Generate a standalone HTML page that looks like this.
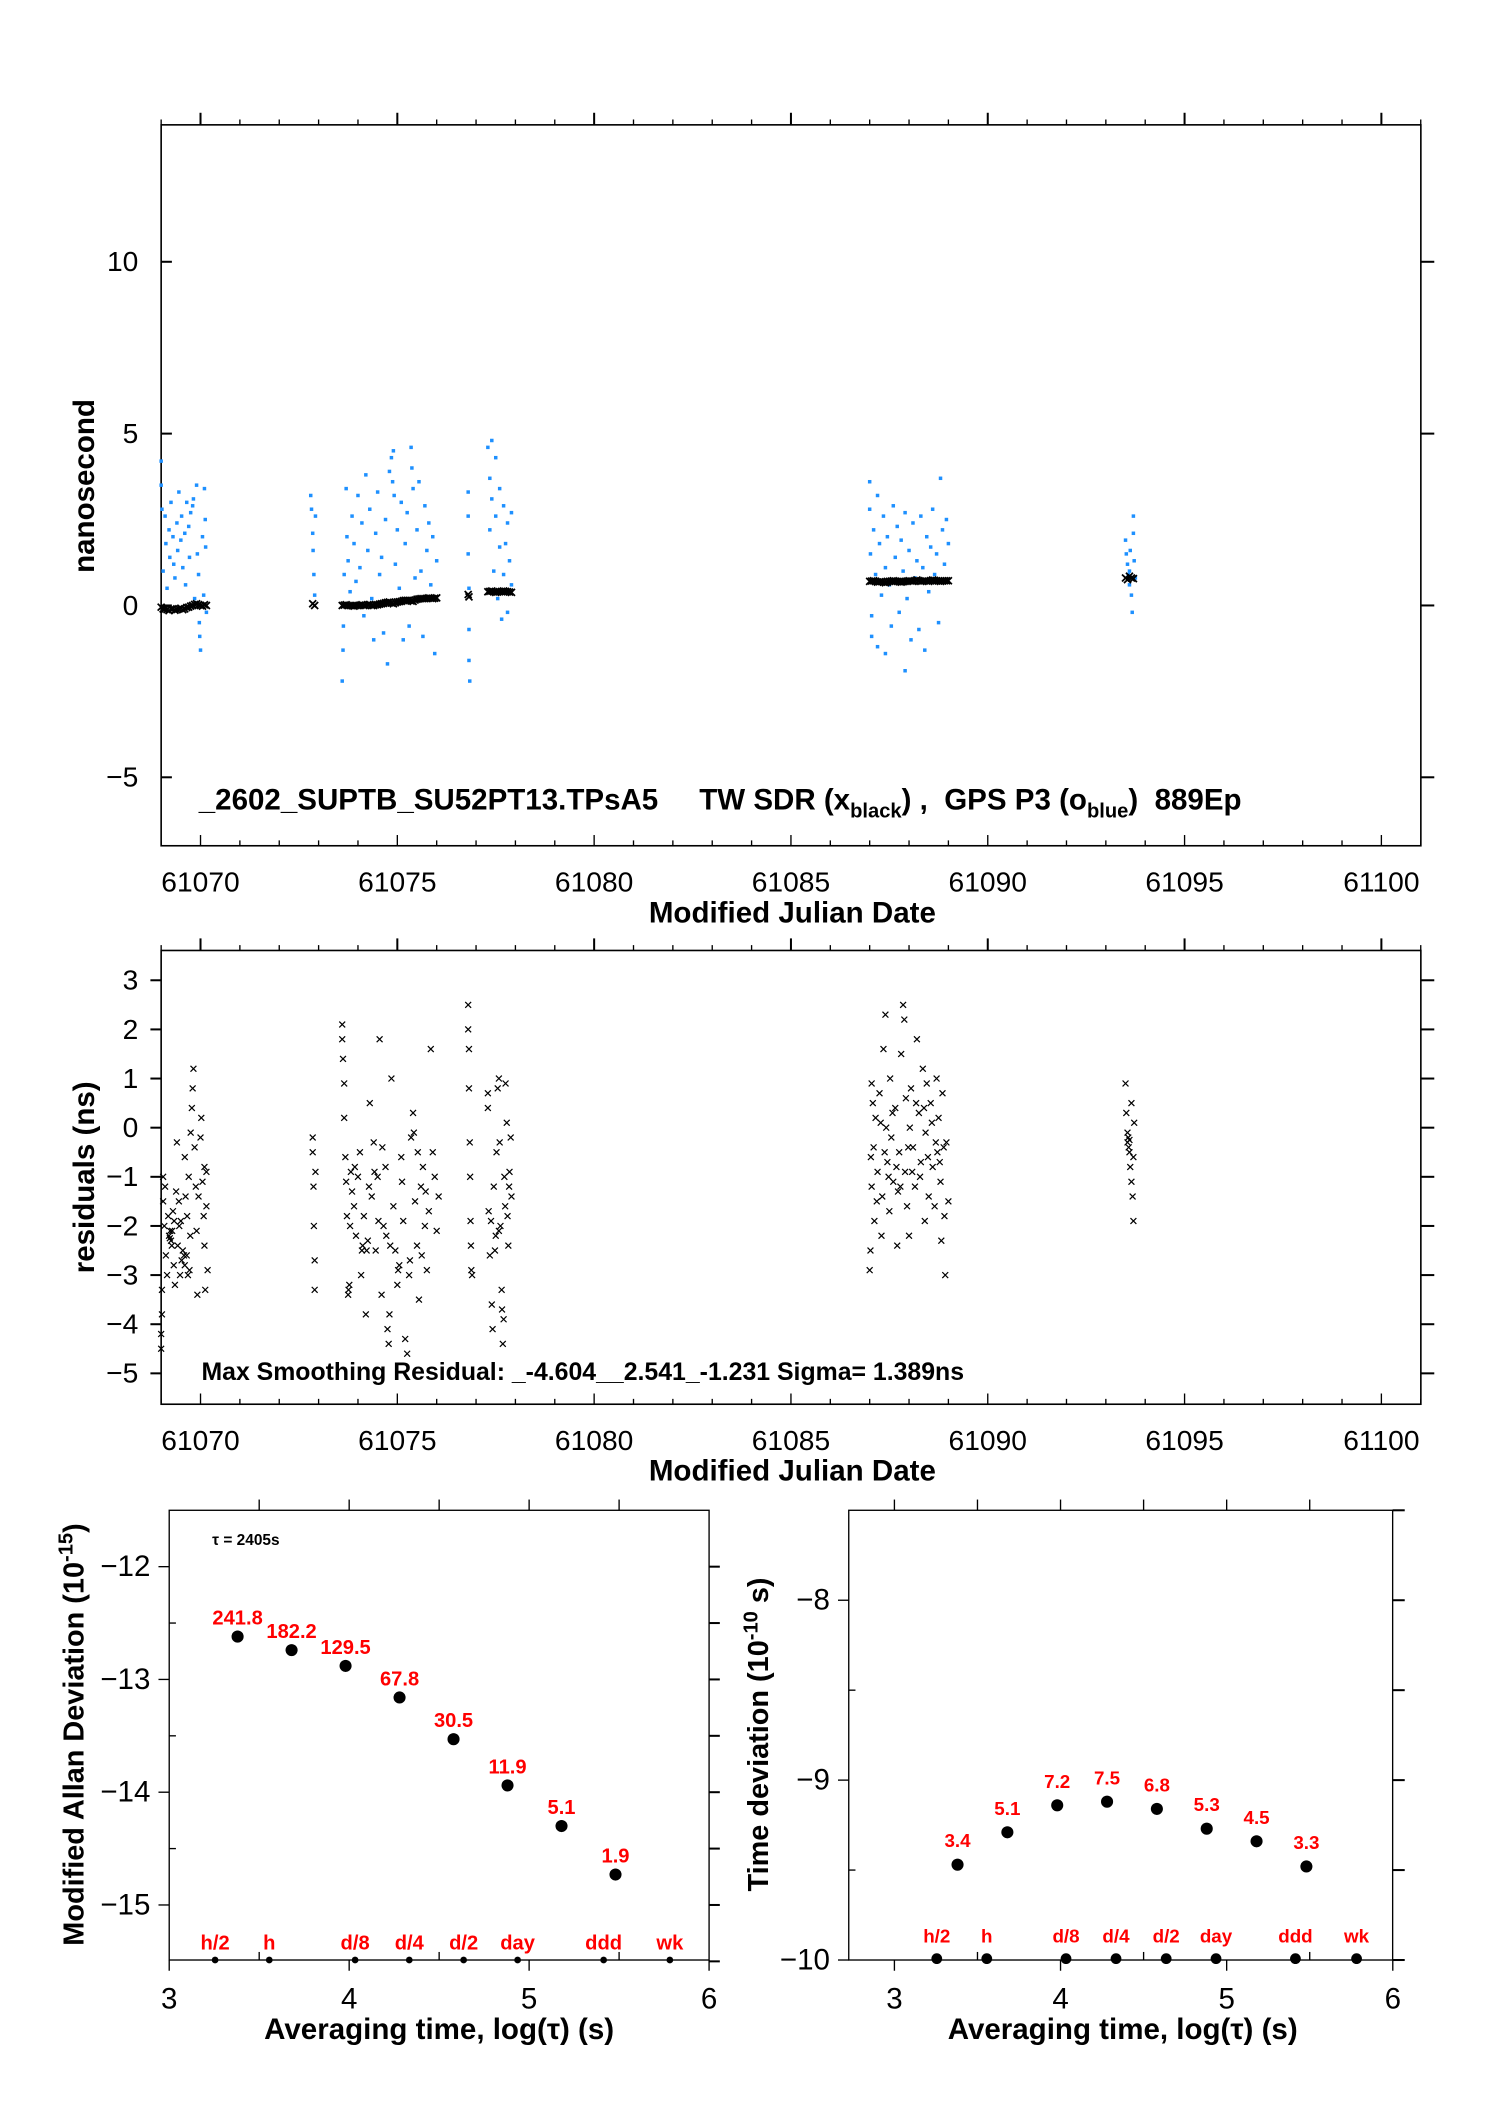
<!DOCTYPE html>
<html><head><meta charset="utf-8"><style>
html,body{margin:0;padding:0;background:#fff;}
svg{display:block;font-family:"Liberation Sans",Arial,sans-serif;}
</style></head><body>
<svg id="fig" width="1488" height="2105" viewBox="0 0 1108 1568" preserveAspectRatio="none" xmlns="http://www.w3.org/2000/svg"></svg>
<script>
// ---- Top plot data ----
const blueSeries = [
[61069.0,4.2],[61069.0,3.5],[61069.02,2.8],[61069.05,1.0],[61069.1,2.6],[61069.12,1.8],[61069.15,0.5],[61069.2,2.2],[61069.22,1.4],[61069.25,3.0],[61069.3,2.0],[61069.32,1.2],[61069.35,0.8],[61069.4,2.4],[61069.42,1.6],[61069.45,3.3],[61069.5,1.9],[61069.52,2.6],[61069.55,1.1],[61069.6,2.1],[61069.62,0.6],[61069.65,3.0],[61069.7,2.3],[61069.72,1.4],[61069.75,2.7],[61069.8,2.9],[61069.82,3.1],[61069.85,0.2],[61069.9,3.5],[61069.92,1.5],[61069.95,0.9],[61069.97,-0.5],[61069.98,-0.9],[61070.0,-1.3],[61070.05,2.0],[61070.08,0.3],[61070.1,3.4],[61070.12,2.5],[61070.13,1.7],[61070.15,-0.2],
[61072.8,3.2],[61072.82,2.8],[61072.85,2.1],[61072.86,1.6],[61072.88,0.9],[61072.9,0.3],[61072.92,2.6],
[61073.6,-2.2],[61073.62,-1.3],[61073.63,-0.6],[61073.65,0.9],[61073.7,3.4],[61073.72,2.0],[61073.75,1.3],[61073.8,0.4],[61073.85,2.6],[61073.9,1.8],[61073.95,0.7],[61074.0,3.2],[61074.05,1.1],[61074.1,2.4],[61074.15,-0.3],[61074.2,3.8],[61074.25,1.6],[61074.3,2.8],[61074.35,0.2],[61074.4,-1.0],[61074.45,2.1],[61074.5,3.3],[61074.55,0.9],[61074.6,1.4],[61074.65,-0.8],[61074.7,2.5],[61074.75,-1.7],[61074.8,3.9],[61074.85,4.3],[61074.88,3.6],[61074.9,4.5],[61074.92,3.2],[61074.95,1.2],[61075.0,2.2],[61075.05,0.5],[61075.1,3.0],[61075.15,-1.0],[61075.2,1.8],[61075.25,2.7],[61075.3,-0.6],[61075.35,4.6],[61075.37,4.0],[61075.4,3.4],[61075.45,0.8],[61075.5,2.2],[61075.55,3.6],[61075.6,1.0],[61075.65,-0.9],[61075.7,2.9],[61075.75,1.6],[61075.8,2.4],[61075.85,0.6],[61075.9,2.0],[61075.95,-1.4],[61076.0,1.3],
[61076.8,3.3],[61076.8,2.6],[61076.8,1.5],[61076.82,0.5],[61076.82,-0.7],[61076.82,-1.6],[61076.84,-2.2],[61077.3,4.6],[61077.35,3.7],[61077.35,2.2],[61077.4,4.8],[61077.4,3.1],[61077.45,1.0],[61077.5,4.3],[61077.5,2.6],[61077.55,0.2],[61077.6,3.4],[61077.6,1.7],[61077.65,-0.4],[61077.7,2.9],[61077.7,0.9],[61077.75,1.8],[61077.8,2.4],[61077.8,-0.2],[61077.85,1.3],[61077.9,2.7],[61077.9,0.6],
[61087.0,3.6],[61087.0,2.8],[61087.02,1.5],[61087.05,-0.3],[61087.05,-0.9],[61087.1,2.2],[61087.15,0.9],[61087.2,-1.2],[61087.2,3.2],[61087.25,1.8],[61087.3,0.3],[61087.35,2.6],[61087.4,-1.4],[61087.4,1.1],[61087.45,2.0],[61087.5,0.6],[61087.55,-0.6],[61087.6,2.9],[61087.65,1.4],[61087.7,2.3],[61087.75,-0.2],[61087.8,1.9],[61087.85,1.0],[61087.9,-1.9],[61087.9,2.7],[61087.95,0.2],[61088.0,1.6],[61088.05,-1.0],[61088.1,2.4],[61088.15,0.8],[61088.2,1.3],[61088.25,-0.7],[61088.3,2.6],[61088.35,1.1],[61088.4,-1.3],[61088.45,2.0],[61088.5,0.4],[61088.55,1.7],[61088.6,2.8],[61088.65,0.9],[61088.7,1.5],[61088.75,-0.5],[61088.8,3.7],[61088.85,2.2],[61088.9,1.2],[61088.95,2.5],[61089.0,1.8],
[61093.5,1.9],[61093.52,1.5],[61093.55,1.2],[61093.57,0.9],[61093.6,0.6],[61093.6,1.0],[61093.62,1.6],[61093.65,0.3],[61093.67,-0.2],[61093.7,2.6],[61093.7,2.1],[61093.72,1.3],[61093.75,0.8]
];
const blackSeries = [
[61069.0,-0.05],[61069.05,-0.1],[61069.1,-0.1],[61069.15,-0.12],[61069.2,-0.15],[61069.25,-0.1],[61069.3,-0.1],[61069.35,-0.14],[61069.4,-0.12],[61069.45,-0.1],[61069.5,-0.08],[61069.55,-0.12],[61069.6,-0.1],[61069.65,-0.06],[61069.7,-0.05],[61069.75,-0.02],[61069.8,0.0],[61069.85,0.03],[61069.9,0.05],[61069.95,0.02],[61070.0,0.0],[61070.05,-0.02],[61070.1,0.02],[61070.15,0.0],
[61072.85,0.05],[61072.9,0.0],
[61073.6,0.0],[61073.65,0.01],[61073.7,0.02],[61073.75,0.0],[61073.8,0.0],[61073.85,-0.01],[61073.9,-0.02],[61073.95,0.0],[61074.0,0.0],[61074.05,0.01],[61074.1,0.02],[61074.15,0.0],[61074.2,0.0],[61074.25,0.02],[61074.3,0.03],[61074.35,0.0],[61074.4,0.0],[61074.45,0.02],[61074.5,0.02],[61074.55,0.04],[61074.6,0.05],[61074.65,0.06],[61074.7,0.08],[61074.75,0.09],[61074.8,0.1],[61074.85,0.07],[61074.9,0.05],[61074.95,0.08],[61075.0,0.1],[61075.05,0.11],[61075.1,0.12],[61075.15,0.14],[61075.2,0.15],[61075.25,0.15],[61075.3,0.15],[61075.35,0.13],[61075.4,0.12],[61075.45,0.16],[61075.5,0.18],[61075.55,0.19],[61075.6,0.2],[61075.65,0.2],[61075.7,0.2],[61075.75,0.21],[61075.8,0.22],[61075.85,0.21],[61075.9,0.2],[61075.95,0.21],[61076.0,0.22],
[61076.8,0.32],[61076.82,0.25],
[61077.3,0.4],[61077.35,0.41],[61077.4,0.42],[61077.45,0.4],[61077.5,0.38],[61077.55,0.39],[61077.6,0.4],[61077.65,0.41],[61077.7,0.42],[61077.75,0.41],[61077.8,0.4],[61077.85,0.39],[61077.9,0.38],
[61087.0,0.7],[61087.05,0.71],[61087.1,0.72],[61087.15,0.7],[61087.2,0.68],[61087.25,0.69],[61087.3,0.7],[61087.35,0.68],[61087.4,0.66],[61087.45,0.68],[61087.5,0.7],[61087.55,0.71],[61087.6,0.72],[61087.65,0.71],[61087.7,0.7],[61087.75,0.69],[61087.8,0.68],[61087.85,0.69],[61087.9,0.7],[61087.95,0.71],[61088.0,0.72],[61088.05,0.71],[61088.1,0.7],[61088.15,0.72],[61088.2,0.74],[61088.25,0.72],[61088.3,0.7],[61088.35,0.71],[61088.4,0.72],[61088.45,0.71],[61088.5,0.7],[61088.55,0.72],[61088.6,0.74],[61088.65,0.73],[61088.7,0.72],[61088.75,0.71],[61088.8,0.7],[61088.85,0.71],[61088.9,0.72],[61088.95,0.72],[61089.0,0.72],
[61093.5,0.8],[61093.55,0.75],[61093.6,0.85],[61093.65,0.8],[61093.7,0.78]
];
const mjdTicks = [61070,61075,61080,61085,61090,61095,61100];
const nsTicks = [10,5,0,-5];
// ---- Residuals ----
const residSeries = [
[61069.0,-4.5],[61069.0,-4.2],[61069.02,-3.8],[61069.02,-3.3],[61069.05,-1.0],[61069.05,-1.5],[61069.08,-2.0],[61069.1,-1.2],[61069.12,-2.6],[61069.15,-3.0],[61069.18,-1.8],[61069.2,-2.2],[61069.25,-2.3],[61069.28,-2.1],[61069.3,-1.7],[61069.32,-2.8],[61069.35,-3.2],[61069.38,-1.3],[61069.4,-0.3],[61069.42,-2.4],[61069.45,-1.5],[61069.48,-3.0],[61069.5,-1.9],[61069.52,-2.7],[61069.55,-2.5],[61069.6,-0.6],[61069.62,-1.4],[61069.65,-2.6],[61069.68,-3.0],[61069.7,-1.0],[61069.72,-2.9],[61069.75,-0.1],[61069.78,0.4],[61069.8,0.8],[61069.82,1.2],[61069.85,-0.4],[61069.88,-1.2],[61069.9,-2.1],[61069.92,-3.4],[61070.0,-0.2],[61070.02,0.2],[61070.05,-1.1],[61070.08,-1.8],[61070.1,-2.4],[61070.12,-3.3],[61070.15,-1.6],[61070.15,-0.9],[61070.18,-2.9],
[61069.22,-2.25],[61069.23,-2.1],[61069.27,-2.4],[61069.33,-1.9],[61069.46,-2.0],[61069.58,-2.6],[61069.6,-2.8],[61069.66,-1.8],[61069.74,-2.2],[61069.95,-1.4],[61070.1,-0.8],
[61072.85,-0.2],[61072.85,-0.5],[61072.87,-1.2],[61072.88,-2.0],[61072.9,-2.7],[61072.9,-3.3],[61072.92,-0.9],
[61073.6,2.1],[61073.6,1.8],[61073.62,1.4],[61073.65,0.9],[61073.65,0.2],[61073.68,-0.6],[61073.7,-1.1],[61073.72,-1.8],[61073.75,-3.4],[61073.78,-3.2],[61073.8,-2.0],[61073.82,-0.9],[61073.85,-1.3],[61073.9,-1.6],[61073.95,-2.2],[61074.0,-1.0],[61074.05,-0.5],[61074.08,-3.0],[61074.1,-2.5],[61074.15,-1.8],[61074.2,-3.8],[61074.25,-2.3],[61074.3,0.5],[61074.35,-1.4],[61074.4,-0.3],[61074.45,-2.5],[61074.5,-1.0],[61074.55,1.8],[61074.6,-3.4],[61074.65,-2.0],[61074.7,-0.8],[61074.75,-4.1],[61074.78,-4.4],[61074.8,-3.8],[61074.85,1.0],[61074.9,-1.6],[61074.95,-2.5],[61075.0,-3.2],[61075.05,-2.8],[61075.1,-0.6],[61075.15,-1.9],[61075.2,-4.3],[61075.25,-4.6],[61075.3,-3.0],[61075.35,-0.2],[61075.4,0.3],[61075.45,-1.5],[61075.5,-2.4],[61075.55,-3.5],[61075.6,-1.2],[61075.65,-0.8],[61075.7,-2.0],[61075.75,-2.9],[61075.8,-1.7],[61075.85,1.6],[61075.9,-0.5],[61075.95,-1.0],[61076.0,-2.1],[61076.05,-1.4],
[61073.76,-3.3],[61073.92,-0.8],[61074.12,-2.4],[61074.22,-2.5],[61074.28,-1.2],[61074.42,-0.9],[61074.52,-1.9],[61074.62,-0.4],[61074.72,-2.2],[61074.82,-2.4],[61075.02,-2.9],[61075.12,-1.1],[61075.32,-2.7],[61075.42,-0.1],[61075.52,-0.5],[61075.62,-2.6],[61075.72,-1.3],
[61076.8,2.5],[61076.8,2.0],[61076.82,1.6],[61076.82,0.8],[61076.84,-0.3],[61076.85,-1.0],[61076.86,-1.9],[61076.87,-2.4],[61076.88,-2.9],[61076.9,-3.0],[61077.3,0.7],[61077.3,0.4],[61077.32,-1.7],[61077.35,-2.6],[61077.4,-3.6],[61077.42,-4.1],[61077.45,-1.2],[61077.5,-2.2],[61077.52,-0.5],[61077.55,0.8],[61077.58,1.0],[61077.6,-0.3],[61077.62,-2.0],[61077.65,-3.3],[61077.68,-4.4],[61077.7,-3.9],[61077.72,-1.0],[61077.75,0.9],[61077.78,0.1],[61077.8,-1.8],[61077.82,-2.4],[61077.85,-0.9],[61077.88,-0.2],[61077.9,-1.4],
[61077.38,-1.9],[61077.48,-2.5],[61077.58,-2.1],[61077.66,-3.7],[61077.74,-1.6],[61077.84,-1.2],
[61087.0,-2.9],[61087.02,-2.5],[61087.05,-1.2],[61087.05,0.9],[61087.08,0.5],[61087.1,-0.4],[61087.12,-1.9],[61087.15,0.2],[61087.2,-0.9],[61087.25,0.7],[61087.3,-2.2],[61087.32,-1.4],[61087.35,1.6],[61087.4,2.3],[61087.42,0.0],[61087.45,-0.7],[61087.5,-1.7],[61087.52,1.0],[61087.55,-0.2],[61087.6,-1.1],[61087.65,0.4],[61087.7,-2.4],[61087.72,-1.3],[61087.75,-0.5],[61087.8,1.5],[61087.85,2.5],[61087.88,2.2],[61087.9,-0.9],[61087.92,0.6],[61087.95,-1.6],[61088.0,-2.2],[61088.02,0.0],[61088.05,0.8],[61088.1,-0.4],[61088.15,-1.2],[61088.2,1.8],[61088.25,0.3],[61088.3,-0.7],[61088.35,1.2],[61088.4,-1.9],[61088.42,-0.1],[61088.45,0.9],[61088.5,-1.4],[61088.55,0.5],[61088.6,-0.8],[61088.65,-1.6],[61088.7,1.0],[61088.72,-0.5],[61088.75,0.2],[61088.8,-1.1],[61088.82,-2.3],[61088.85,0.7],[61088.9,-1.8],[61088.92,-3.0],[61088.95,-0.3],[61089.0,-1.5],
[61087.03,-0.6],[61087.18,-1.5],[61087.28,0.1],[61087.38,-0.5],[61087.48,-1.0],[61087.58,0.3],[61087.68,-0.8],[61087.78,-1.2],[61087.98,-0.4],[61088.08,-0.9],[61088.18,0.5],[61088.28,-1.0],[61088.38,0.4],[61088.48,-0.6],[61088.58,0.1],[61088.68,-0.3],[61088.78,-0.7],[61088.88,-0.4],
[61093.5,0.9],[61093.52,0.3],[61093.55,-0.1],[61093.55,-0.3],[61093.57,-0.2],[61093.58,-0.4],[61093.6,-0.5],[61093.6,-0.25],[61093.62,-0.8],[61093.65,-1.1],[61093.65,0.5],[61093.68,-1.4],[61093.7,-1.9],[61093.7,-0.6],[61093.72,0.1]
];
const residTicks = [3,2,1,0,-1,-2,-3,-4,-5];
// ---- Allan / TDEV ----
const logTau = [3.38,3.68,3.98,4.28,4.58,4.88,5.18,5.48];
const madevVals = [-12.62,-12.74,-12.88,-13.16,-13.53,-13.94,-14.30,-14.73];
const madevLabels = ["241.8","182.2","129.5","67.8","30.5","11.9","5.1","1.9"];
const tdevVals = [-9.47,-9.29,-9.14,-9.12,-9.16,-9.27,-9.34,-9.48];
const tdevLabels = ["3.4","5.1","7.2","7.5","6.8","5.3","4.5","3.3"];
const markerNames = ["h/2","h","d/8","d/4","d/2","day","ddd","wk"];
const markerLogTau = [3.255,3.556,4.033,4.334,4.636,4.936,5.414,5.782];
const logTicks = [3,4,5,6];
const madevTicks = [-12,-13,-14,-15];
const tdevTicks = [-8,-9,-10];

const NS='http://www.w3.org/2000/svg';
const svg=document.getElementById('fig');
function el(tag,attrs,parent){const e=document.createElementNS(NS,tag);for(const k in attrs)e.setAttribute(k,attrs[k]);(parent||svg).appendChild(e);return e;}
function txt(s,x,y,o,parent){const t=el('text',Object.assign({x:x,y:y},o||{}),parent);t.textContent=s;return t;}
function line(x1,y1,x2,y2,w,parent){return el('line',{x1,y1,x2,y2,stroke:'#000','stroke-width':w||1},parent);}
function xmark(g,x,y,s,w){el('path',{d:`M${x-s},${y-s}L${x+s},${y+s}M${x-s},${y+s}L${x+s},${y-s}`,stroke:'#000','stroke-width':w,fill:'none'},g);}

// axis functions
const X=m=>120+(m-61069)*29.31;
const Y1=v=>451-v*25.6;
const Y2=v=>840-v*36.6;
const XL=t=>126+(t-3)*134;
const YL=v=>1167-(v+12)*84;
const XR=t=>666+(t-3)*123.7;
const YR=v=>1460-(v+10)*134;

// ===== Top plot =====
const g1=el('g',{});


el('rect',{x:120,y:93,width:938,height:537,fill:'none',stroke:'#000','stroke-width':1.2},g1);
for(let d=61069;d<=61101;d++){const long=d%5===0;line(X(d),93,X(d),long?84:89,long?1.5:1,g1);line(X(d),630,X(d),long?622:626,1,g1);}
mjdTicks.forEach(m=>{const t=txt(String(m),X(m),664,{'font-size':21,'text-anchor':'middle'},g1);});
nsTicks.forEach(v=>{line(120,Y1(v),128,Y1(v),1.5,g1);line(1058,Y1(v),1068,Y1(v),1.5,g1);const t=txt(v<0?'\u2212'+(-v):String(v),103,Y1(v)+7,{'font-size':21,'text-anchor':'end'},g1);});
const yt1=txt('nanosecond',0,0,{'font-size':22,'font-weight':'bold','text-anchor':'middle',transform:'translate(70,362) rotate(-90)'},g1);

const xt1=txt('Modified Julian Date',590,687,{'font-size':22,'font-weight':'bold','text-anchor':'middle'},g1);

const ann=el('text',{x:148,y:603,'font-size':22,'font-weight':'bold'},g1);

ann.innerHTML='_2602_SUPTB_SU52PT13.TPsA5\u00a0\u00a0\u00a0\u00a0 TW SDR (x<tspan font-size="15" dy="6">black</tspan><tspan dy="-6">) ,\u00a0 GPS P3 (o</tspan><tspan font-size="15" dy="6">blue</tspan><tspan dy="-6">)\u00a0 889Ep</tspan>';
const gb=el('g',{fill:'#1e90ff'},g1);

blueSeries.forEach(p=>{const r=el('rect',{x:X(p[0])-1.3,y:Y1(p[1])-1.3,width:2.6,height:2.6},gb);});
const gk=el('g',{},g1);

blackSeries.forEach(p=>{xmark(gk,X(p[0]),Y1(p[1]),2.6,1.3);});

// ===== Residual plot =====
const g2=el('g',{});


el('rect',{x:120,y:708,width:938,height:338,fill:'none',stroke:'#000','stroke-width':1.2},g2);
for(let d=61069;d<=61101;d++){const long=d%5===0;line(X(d),708,X(d),long?699:704,long?1.5:1,g2);line(X(d),1046,X(d),long?1038:1042,1,g2);}
mjdTicks.forEach(m=>{const t=txt(String(m),X(m),1080,{'font-size':21,'text-anchor':'middle'},g2);});
residTicks.forEach(v=>{line(112,Y2(v),120,Y2(v),1.5,g2);line(1058,Y2(v),1068,Y2(v),1.5,g2);const t=txt(v<0?'\u2212'+(-v):String(v),103,Y2(v)+7,{'font-size':21,'text-anchor':'end'},g2);});
const yt2=txt('residuals (ns)',0,0,{'font-size':22,'font-weight':'bold','text-anchor':'middle',transform:'translate(70,877) rotate(-90)'},g2);

const xt2=txt('Modified Julian Date',590,1103,{'font-size':22,'font-weight':'bold','text-anchor':'middle'},g2);

const ann2=txt('Max Smoothing Residual: _-4.604__2.541_-1.231  Sigma= 1.389ns',150,1028,{'font-size':18.5,'font-weight':'bold','xml:space':'preserve'},g2);

const gr=el('g',{},g2);

residSeries.forEach(p=>{xmark(gr,X(p[0]),Y2(p[1]),2.2,0.9);});

// ===== Bottom-left MADEV =====
const g3=el('g',{});


el('rect',{x:126,y:1125,width:402,height:335,fill:'none',stroke:'#000','stroke-width':1},g3);
for(let t=3;t<=6.001;t+=0.5){const x=XL(t);const major=Math.abs(t-Math.round(t))<0.01;
 if(major){line(x,1460,x,1468,1,g3);}else{line(x,1460,x,1454,1,g3);}
 if(t>3&&t<6)line(x,1125,x,1117,1,g3);}
logTicks.forEach(t=>{const l=txt(String(t),XL(t),1496,{'font-size':22,'text-anchor':'middle'},g3);});
for(let v=-12;v>=-15.5;v-=0.5){line(528,YL(v),536,YL(v),1.5,g3);}
for(let v=-12.5;v>=-15;v-=1){line(126,YL(v),131,YL(v),1,g3);}
madevTicks.forEach(v=>{line(118,YL(v),126,YL(v),1,g3);const l=txt('\u2212'+(-v),112,YL(v)+7,{'font-size':22,'text-anchor':'end'},g3);});
const yt3=el('text',{'font-size':21.5,'font-weight':'bold','text-anchor':'middle',transform:'translate(62,1292) rotate(-90)'},g3);

yt3.innerHTML='Modified Allan Deviation (10<tspan font-size="15" dy="-8">-15</tspan><tspan dy="8">)</tspan>';
const xt3=el('text',{x:327,y:1519,'font-size':22,'font-weight':'bold','text-anchor':'middle'},g3);

xt3.textContent='Averaging time, log(\u03c4) (s)';
const tau=txt('\u03c4 = 2405s',158,1151,{'font-size':11.5,'font-weight':'bold'},g3);

logTau.forEach((t,i)=>{const c=el('circle',{cx:XL(t),cy:YL(madevVals[i]),r:4.5,fill:'#000'},g3);
 const l=txt(madevLabels[i],XL(t),YL(madevVals[i])-9,{'font-size':15,'font-weight':'bold',fill:'#ff0000','text-anchor':'middle'},g3);});
markerLogTau.forEach((t,i)=>{el('circle',{cx:XL(t),cy:1460,r:2.5,fill:'#000'},g3);const l=txt(markerNames[i],XL(t),1452,{'font-size':15,'font-weight':'bold',fill:'#ff0000','text-anchor':'middle'},g3);});

// ===== Bottom-right TDEV =====
const g4=el('g',{});


el('rect',{x:632,y:1125,width:405,height:335,fill:'none',stroke:'#000','stroke-width':1},g4);
for(let t=3;t<=6.001;t+=0.5){const x=XR(t);const major=Math.abs(t-Math.round(t))<0.01;
 if(major){line(x,1460,x,1468,1,g4);}else{line(x,1460,x,1454,1,g4);}
 if(t>2.9&&t<6)line(x,1125,x,1117,1,g4);}
logTicks.forEach(t=>{const l=txt(String(t),XR(t),1496,{'font-size':22,'text-anchor':'middle'},g4);});
for(let v=-7.5;v>=-10;v-=0.5){line(1037,YR(v),1046,YR(v),1.5,g4);}
for(let v=-8.5;v>=-9.5;v-=1){line(632,YR(v),637,YR(v),1,g4);}
tdevTicks.forEach(v=>{line(624,YR(v),632,YR(v),1,g4);const l=txt('\u2212'+(-v),618,YR(v)+7,{'font-size':22,'text-anchor':'end'},g4);});
const yt4=el('text',{'font-size':21.5,'font-weight':'bold','text-anchor':'middle',transform:'translate(572,1292) rotate(-90)'},g4);

yt4.innerHTML='Time deviation (10<tspan font-size="15" dy="-8">-10</tspan><tspan dy="8"> s)</tspan>';
const xt4=el('text',{x:836,y:1519,'font-size':22,'font-weight':'bold','text-anchor':'middle'},g4);

xt4.textContent='Averaging time, log(\u03c4) (s)';
logTau.forEach((t,i)=>{const c=el('circle',{cx:XR(t),cy:YR(tdevVals[i]),r:4.5,fill:'#000'},g4);
 const l=txt(tdevLabels[i],XR(t),YR(tdevVals[i])-13,{'font-size':14,'font-weight':'bold',fill:'#ff0000','text-anchor':'middle'},g4);});
markerLogTau.forEach((t,i)=>{el('circle',{cx:XR(t),cy:1459,r:4,fill:'#000'},g4);const l=txt(markerNames[i],XR(t),1447,{'font-size':14,'font-weight':'bold',fill:'#ff0000','text-anchor':'middle'},g4);});
</script>
</body></html>
